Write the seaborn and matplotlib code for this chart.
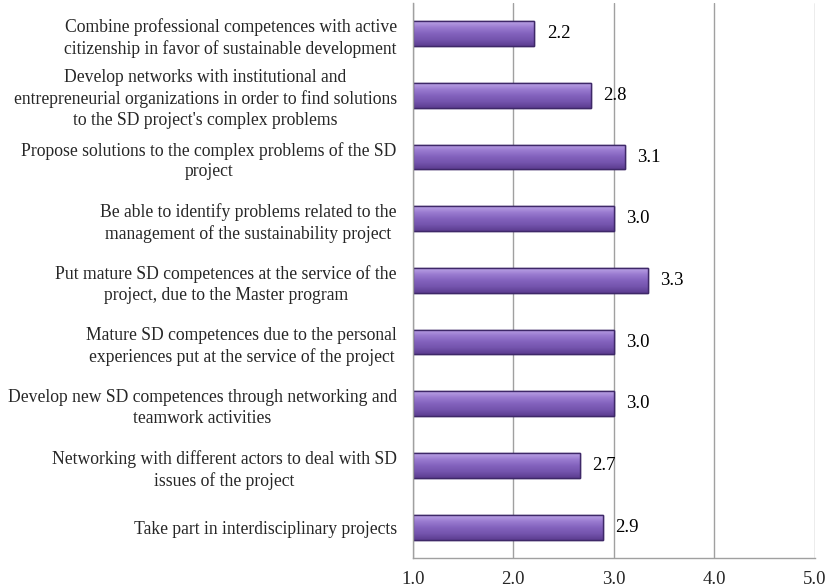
import matplotlib
matplotlib.use("Agg")
import matplotlib.pyplot as plt
import matplotlib.colors as mcolors
import numpy as np
import pandas as pd
import seaborn as sns

competences = [
    "Combine professional competences with active\ncitizenship in favor of sustainable development",
    "Develop networks with institutional and\nentrepreneurial organizations in order to find solutions\nto the SD project's complex problems",
    "Propose solutions to the complex problems of the SD\nproject",
    "Be able to identify problems related to the\nmanagement of the sustainability project",
    "Put mature SD competences at the service of the\nproject, due to the Master program",
    "Mature SD competences due to the personal\nexperiences put at the service of the project",
    "Develop new SD competences through networking and\nteamwork activities",
    "Networking with different actors to deal with SD\nissues of the project",
    "Take part in interdisciplinary projects",
]
scores = [2.21, 2.77, 3.11, 3.0, 3.34, 3.0, 3.0, 2.66, 2.89]
x_ticks = [1.0, 2.0, 3.0, 4.0, 5.0]

df = pd.DataFrame({"competence": competences, "score": scores})

sns.set_style("white")
plt.rcParams['font.family'] = ['Liberation Serif', 'DejaVu Serif']

fig = plt.figure(figsize=(8.29, 5.88), dpi=100)
ax = fig.add_axes([0.498, 0.051, 0.485, 0.944])

# bars start at 1.0 on the axis, so shift them after seaborn draws them
sns.barplot(data=df, x="score", y="competence", orient="h", color="#7d5bb5",
            width=0.40, edgecolor="#3e2868", linewidth=1.0, ax=ax)
for p in ax.patches:
    p.set_x(1.0)
    p.set_width(p.get_width() - 1.0)

# gradient fill for a cylinder-like look
cmap = mcolors.LinearSegmentedColormap.from_list(
    "bar", ["#bba3e6", "#9a7bd0", "#8362bd", "#7454ad", "#5c3d90"])
grad = np.linspace(0, 1, 64).reshape(-1, 1)
for p in list(ax.patches):
    x0, y0 = p.get_x(), p.get_y()
    w, h = p.get_width(), p.get_height()
    im = ax.imshow(grad, cmap=cmap, aspect="auto",
                   extent=(x0, x0 + w, y0 + h, y0), zorder=p.get_zorder() + 0.1)
    im.set_clip_path(p)
    edge = plt.Rectangle((x0, y0), w, h, fill=False, edgecolor="#3e2868",
                         linewidth=1.0, zorder=p.get_zorder() + 0.2)
    ax.add_patch(edge)

for i, v in enumerate(scores):
    ax.annotate(f"{v:.1f}", xy=(v, i), xytext=(9, 0), textcoords="offset points",
                va="center", ha="left", fontsize=13.5, color="black")

ax.set_xlim(1.0, 5.0)
ax.set_ylim(len(competences) - 0.5, -0.5)
ax.set_xticks(x_ticks)
ax.set_xticklabels([f"{t:.1f}" for t in x_ticks], fontsize=13.5)
ax.set_xlabel("")
ax.set_ylabel("")
ax.set_yticks(range(len(competences)))
ax.set_yticklabels(competences, fontsize=12.7, multialignment="center", linespacing=1.3)
ax.set_yticks(np.arange(-0.5, len(competences), 1), minor=True)
ax.tick_params(axis="y", which="major", length=0, pad=11.5)
ax.tick_params(axis="y", which="minor", length=5, color="#a0a0a0", direction="out")
ax.tick_params(axis="x", length=5, color="#a0a0a0", direction="out", pad=4)

ax.grid(axis="x", color="#a0a0a0", linewidth=1.0)
ax.set_axisbelow(True)
for s in ["top", "right"]:
    ax.spines[s].set_visible(False)
for s in ["left", "bottom"]:
    ax.spines[s].set_color("#a0a0a0")
    ax.spines[s].set_linewidth(1.0)

fig.savefig("out.png", dpi=100, facecolor="white")
